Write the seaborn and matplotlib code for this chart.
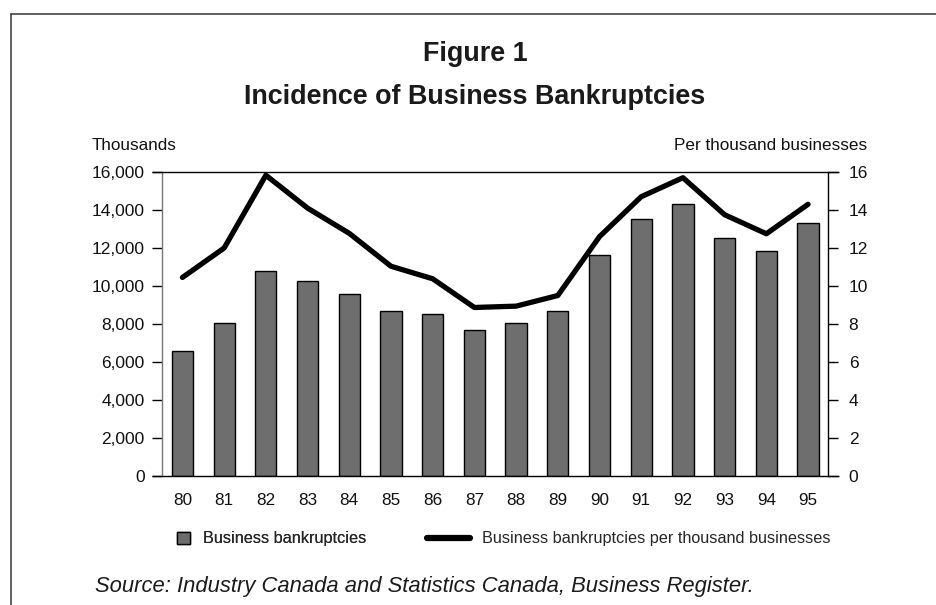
import matplotlib
matplotlib.use("Agg")
import matplotlib.pyplot as plt
import seaborn as sns
import pandas as pd
from matplotlib.lines import Line2D
from matplotlib.patches import Patch
from matplotlib.ticker import FuncFormatter

years = ["80", "81", "82", "83", "84", "85", "86", "87",
         "88", "89", "90", "91", "92", "93", "94", "95"]
bankruptcies = [6600, 8050, 10780, 10280, 9600, 8700, 8530, 7700,
                8050, 8680, 11650, 13520, 14340, 12550, 11850, 13300]
per_thousand = [10.45, 12.0, 15.83, 14.1, 12.77, 11.04, 10.38, 8.87,
                8.94, 9.5, 12.6, 14.7, 15.7, 13.75, 12.75, 14.3]
left_ticks = [0, 2000, 4000, 6000, 8000, 10000, 12000, 14000, 16000]
right_ticks = [0, 2, 4, 6, 8, 10, 12, 14, 16]

sns.set_theme(style="white")
FONT = ["Liberation Sans", "DejaVu Sans"]
plt.rcParams["font.family"] = FONT

df = pd.DataFrame({"year": years, "bankruptcies": bankruptcies,
                   "rate": per_thousand})

fig = plt.figure(figsize=(9.37, 6.05), dpi=100)
ax = fig.add_axes([0.1729, 0.2132, 0.7113, 0.5025])

sns.barplot(data=df, x="year", y="bankruptcies", ax=ax, color="#6e6e6e",
            saturation=1, width=0.51, edgecolor="black", linewidth=1.0)
ax.set_ylim(0, 16000)
ax.set_xlim(-0.49, 15.49)
ax.set_xlabel("")
ax.set_ylabel("")
ax.set_yticks(left_ticks)
ax.yaxis.set_major_formatter(FuncFormatter(lambda v, p: f"{int(v):,}"))

ax2 = ax.twinx()
sns.pointplot(data=df, x="year", y="rate", ax=ax2, color="black",
              marker="", linewidth=3.8, errorbar=None)
ax2.set_ylim(0, 16)
ax2.set_xlim(-0.49, 15.49)
ax2.set_yticks(right_ticks)
ax2.set_ylabel("")
ax2.set_xlabel("")

for a in (ax, ax2):
    for s in a.spines.values():
        s.set_visible(False)
ax.spines["left"].set_visible(True)
ax.spines["left"].set_color("#777777")
ax.spines["left"].set_linewidth(1.0)
ax2.spines["right"].set_visible(True)
ax2.spines["right"].set_color("black")
ax2.spines["right"].set_linewidth(1.0)

# top and bottom rules extended through tick length
for yv in (0, 16):
    ax2.plot([-0.49 - 0.25, 15.49 + 0.25], [yv, yv], color="black",
             linewidth=1.0, clip_on=False, solid_capstyle="butt")

ax.tick_params(axis="y", which="both", left=True, length=7.5, width=1.0,
               color="black", pad=5, labelsize=12.5, labelcolor="#111111")
ax.tick_params(axis="x", length=0, pad=12, labelsize=12.3, labelcolor="#111111")
ax2.tick_params(axis="y", right=True, length=7.5, width=1.0, color="black",
                pad=7, labelsize=12.5, labelcolor="#111111")

fig.text(0.507, 1 - 61 / 605, "Figure 1", ha="center", va="baseline",
         fontsize=19.4, fontweight="bold", color="#1a1a1a")
fig.text(0.507, 1 - 104 / 605, "Incidence of Business Bankruptcies",
         ha="center", va="baseline", fontsize=19.4, fontweight="bold",
         color="#1a1a1a")
fig.text(92 / 937, 1 - 146 / 605, "Thousands", ha="left", va="center",
         fontsize=12.3, color="#111111")
fig.text(867 / 937, 1 - 146 / 605, "Per thousand businesses", ha="right",
         va="center", fontsize=12.3, color="#111111")
fig.text(95 / 937, 1 - 592 / 605,
         "Source: Industry Canada and Statistics Canada, Business Register.",
         ha="left", va="baseline", fontsize=15.8, style="italic",
         color="#1a1a1a")

# figure frame: top and left rules
fig.add_artist(Line2D([11 / 937, 1.0], [1 - 14 / 605, 1 - 14 / 605],
                      transform=fig.transFigure, color="#444444", linewidth=1.2))
fig.add_artist(Line2D([11 / 937, 11 / 937], [0.0, 1 - 14 / 605],
                      transform=fig.transFigure, color="#444444", linewidth=1.2))

leg1 = fig.legend(handles=[Patch(facecolor="#6e6e6e", edgecolor="black",
                                 linewidth=1.0, label="Business bankruptcies")],
                  loc="center left", bbox_to_anchor=(162 / 937, 1 - 539 / 605),
                  frameon=False, handlelength=0.8, handleheight=0.8,
                  handletextpad=0.8, prop={"size": 11.7})
leg2 = fig.legend(handles=[Line2D([], [], color="black", linewidth=4.5,
                                  label="Business bankruptcies per thousand businesses")],
                  loc="center left", bbox_to_anchor=(412 / 937, 1 - 539 / 605),
                  frameon=False, handlelength=2.65, handletextpad=0.75,
                  prop={"size": 11.7})
fig.add_artist(leg1)

fig.savefig("out.png", dpi=100, facecolor="white")
